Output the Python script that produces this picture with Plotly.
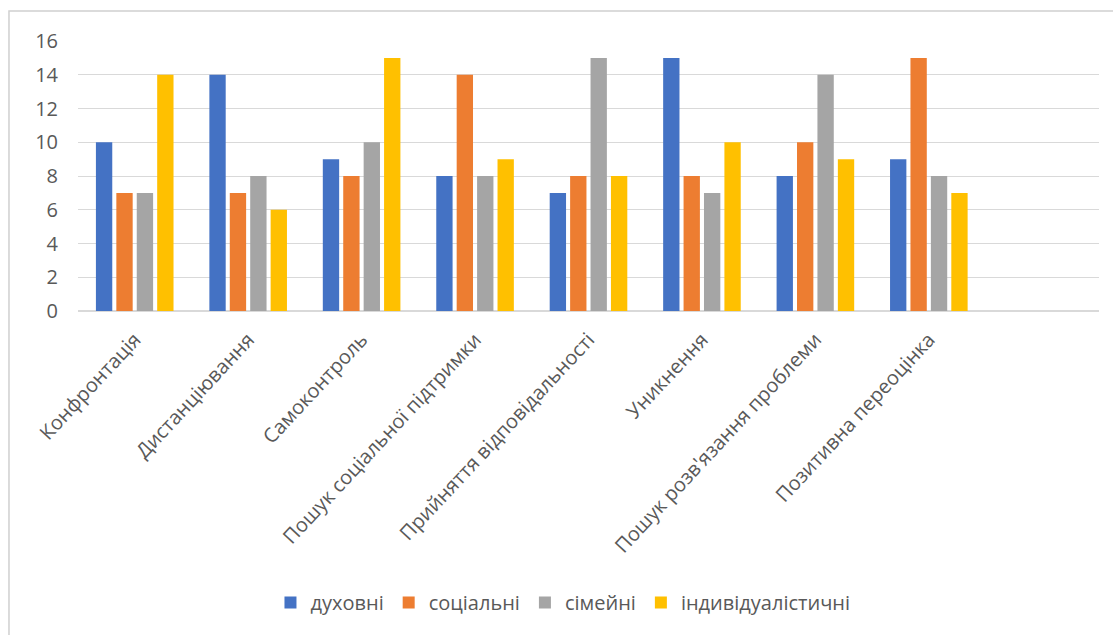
import plotly.graph_objects as go

# Coping strategies (categories) and scores by value orientation
categories = [
    "Конфронтація",
    "Дистанціювання",
    "Самоконтроль",
    "Пошук соціальної підтримки",
    "Прийняття відповідальності",
    "Уникнення",
    "Пошук розв'язання проблеми",
    "Позитивна переоцінка",
]

dukhovni = [10, 14, 9, 8, 7, 15, 8, 9]
sotsialni = [7, 7, 8, 14, 8, 8, 10, 15]
simeini = [7, 8, 10, 8, 15, 7, 14, 8]
indyvidualistychni = [14, 6, 15, 9, 8, 10, 9, 7]

series = [
    ("духовні", dukhovni, "#4472C4"),
    ("соціальні", sotsialni, "#ED7D31"),
    ("сімейні", simeini, "#A5A5A5"),
    ("індивідуалістичні", indyvidualistychni, "#FFC000"),
]

y_ticks = list(range(0, 17, 2))

FONT = "Open Sans"
TEXT_COLOR = "#595959"
GRID = "#d9d9d9"

fig = go.Figure()
for name, values, color in series:
    fig.add_trace(go.Bar(
        x=categories,
        y=values,
        name=name,
        marker=dict(color=color, line=dict(width=0)),
    ))

fig.update_layout(
    width=1113,
    height=635,
    margin=dict(l=78, r=14, t=41, b=324),
    paper_bgcolor="white",
    plot_bgcolor="white",
    barmode="group",
    bargap=0.28,
    bargroupgap=0.2,
    font=dict(family=FONT, color=TEXT_COLOR, size=20),
    showlegend=True,
    legend=dict(
        orientation="h",
        x=0.475,
        xanchor="center",
        y=-1.08,
        yanchor="middle",
        font=dict(size=20, color=TEXT_COLOR),
        itemwidth=30,
        traceorder="normal",
    ),
    xaxis=dict(
        type="category",
        categoryorder="array",
        categoryarray=categories,
        range=[-0.5, 8.5],
        tickangle=-47,
        tickfont=dict(size=20, color=TEXT_COLOR),
        showgrid=False,
        showline=True,
        linecolor=GRID,
        linewidth=1,
        ticks="",
        ticklabelstandoff=8,
        fixedrange=True,
    ),
    yaxis=dict(
        range=[0, 16],
        tickvals=y_ticks,
        tickfont=dict(size=20, color=TEXT_COLOR),
        showgrid=True,
        gridcolor=GRID,
        gridwidth=1,
        zeroline=True,
        zerolinecolor=GRID,
        showline=False,
        ticks="",
        ticklabelstandoff=19,
        fixedrange=True,
    ),
    shapes=[
        dict(
            type="rect",
            xref="paper",
            yref="paper",
            x0=-0.0676,
            x1=1.0206,
            y0=-1.237,
            y1=1.111,
            line=dict(color="#d0d0d0", width=1.5),
            fillcolor="rgba(0,0,0,0)",
            layer="below",
        )
    ],
)

fig.write_html("out.html")
